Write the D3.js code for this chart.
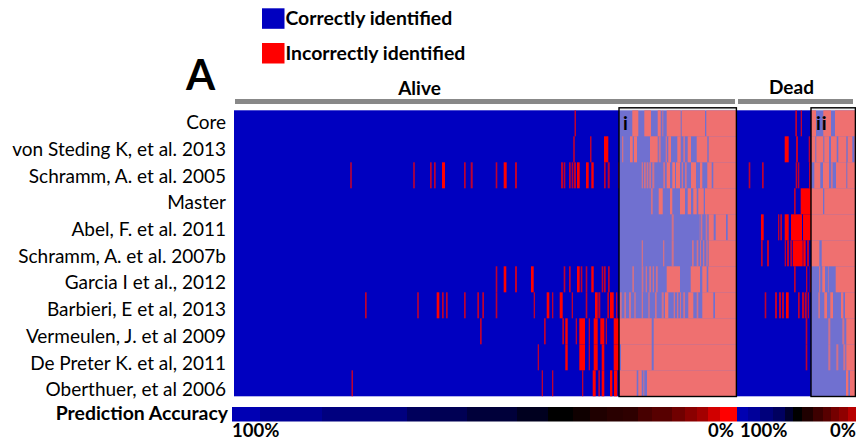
<!DOCTYPE html>
<html>
<head>
  <meta charset="utf-8">
  <title>Prediction accuracy per classifier</title>
  <style>
    body { margin: 0; background: #fff; }
    svg { display: block; }
    text { font-family: Lato, "Open Sans", sans-serif; fill: #000; font-size: 19px; }
    .bold { font-weight: 700; }
  </style>
</head>
<body>
  <script src="https://cdn.jsdelivr.net/npm/d3@7"></script>
  <script>
    var studies = ["Core", "von Steding K, et al. 2013", "Schramm, A. et al. 2005", "Master",
      "Abel, F. et al. 2011", "Schramm, A. et al. 2007b", "Garcia I et al., 2012",
      "Barbieri, E et al, 2013", "Vermeulen, J. et al 2009", "De Preter K. et al, 2011",
      "Oberthuer, et al 2006"];

    // sample ranges [from, to] that were misclassified, one list per study
    var aliveWrong = [
      [[340.5,342],[398.3,404.3],[410.3,417],[423.7,426.7],[428.3,429.3],[432.7,446.7],[447.7,471],[472.3,502]],
      [[339.2,340.8],[356,357.5],[370,374.3],[388,389.3],[396,398.7],[400,403],[416,423.7],[424.7,426.7],[431.7,433],[434.3,437],[443.3,446.7],[449.3,451],[453.7,457],[462.7,473.3],[474.7,502]],
      [[116.2,117.8],[179.2,180.8],[196,197.7],[200,201.7],[208,211],[230,231.7],[236.7,238.7],[261.7,263.3],[269.7,272.7],[281,283],[327,329],[329.7,331.3],[335,336.7],[337.7,339.3],[340,342],[343,345.7],[352,354.7],[357.3,359.7],[370,371.7],[373.7,375.7],[384,384.7],[407.7,409],[410,411.7],[412.7,414.3],[415.3,417],[418.3,420.3],[429.3,431],[432.7,436],[438.3,441],[442,446],[447.7,449],[451,452.7],[457,462],[466,468.3],[473.3,477.7],[479.3,502]],
      [[417,418.7],[424.7,428.7],[436,438.3],[446,451],[453.7,457],[459.3,462.7],[464.3,469.7],[471,502]],
      [[437.7,439.7],[465.7,466.3],[467,468.3],[471.7,473.3],[474.7,479.7],[481.7,492],[493.7,502]],
      [[407.7,409],[429,430.3],[437.7,439.7],[458,459.7],[462.7,464.3],[466,467],[469,470.3],[472.3,473.7],[474.7,502]],
      [[261.7,263.3],[269.7,272.3],[281,283],[297,299.7],[329.7,331.3],[335,336.7],[343,345.7],[346.7,348.3],[351.7,353.3],[357.3,359.7],[367.7,369.3],[370,371.7],[374,375.7],[398.3,400],[407.7,409.3],[411.7,413],[415.3,417],[418.7,420],[422,423.7],[432.7,446],[456.7,466],[468.3,472.7],[474.3,502]],
      [[131,132.7],[183.2,184.8],[202.7,205.3],[208,209.7],[212,213.7],[230,231.7],[243.3,245],[248.3,250],[261.7,263.3],[299.7,301],[312.7,315.3],[318,319.3],[325.7,328.7],[337.7,339],[351.7,353.3],[361,363.7],[364.3,366.3],[373.3,375],[376,379.7],[382,383.3],[386,387.7],[390.3,392],[395,397],[400.3,401.7],[407.7,409],[414.3,415.7],[421,422.7],[427.7,429.7],[431,434.3],[439.7,441],[443,444.3],[446,447],[449.3,451],[454.3,459.3],[462.7,464.3],[468.3,479.3],[481,502]],
      [[246,247.7],[310,311.7],[328.3,330],[331.3,333.7],[341.7,343],[345.3,351],[354.7,356],[359.7,363.7],[366.3,370.3],[371.7,373],[379.7,417.7],[419.7,502]],
      [[303.7,305],[331.3,333.7],[345.3,351],[354.7,356],[359.7,363.7],[367.7,370.3],[379.7,385.7],[387,417.7],[419.7,502]],
      [[117.5,119],[307.7,309],[318,319.3],[348,349.3],[358.7,361.7],[364.3,366],[367.7,370.3],[376,378.3],[380,383.3],[386,402.7],[404.3,407.7],[409.3,410.3],[413,502]]
    ];
    var deadWrong = [
      [[58.3,60],[63.7,65],[74,79],[86.3,94],[98,119]],
      [[47.7,51.7],[59,61],[71.7,73.3],[74,78.3],[79.3,86.3],[87.3,92],[94,99.7],[101.3,109.3],[110.7,115.3],[117.3,119]],
      [[11.7,13.3],[25,26.7],[58.7,60.3],[61,62.3],[72,74],[77.3,83.3],[86,92],[94,95.7],[99,109.3],[110.3,119]],
      [[57,58.7],[63.7,86],[87.3,119]],
      [[24,26.7],[41,42.3],[43.3,45],[47.7,51.7],[54,65],[66,119]],
      [[24,25.7],[30,32],[47.7,49],[50,52],[53.3,55.3],[56,65.7],[66.3,68.7],[70,72],[74,82.3],[84.7,119]],
      [[57,58.7],[69,70.3],[72.7,74],[82,83.3],[85.3,88],[91.3,92],[98.7,119]],
      [[27.7,29.3],[38,40],[42,44],[45,47],[49,51.7],[61,62.7],[65,67],[67.7,69.7],[70.7,72],[81.3,83],[87.3,90],[93.3,96],[104,106.3],[108,119]],
      [[68.7,70.3],[91.3,93.3],[105.3,107.3],[109.3,119]],
      [[68.7,70.3],[91.3,93.3],[99.3,101.3],[106.3,108.3],[109.3,119]],
      [[109,111.3],[113,119]]
    ];

    // accuracy key, stepped: [from sample, accuracy %]
    var aliveKeyStart = [-2,26,88,173,196,233,283,314,339,356,373,389,404,418,438,451,463,474,486];
    var aliveKeyAcc = [97,89,83,74,72,65,58,50,47,44,42,41,36,33,28,23,18,9,0];
    var deadKeyStart = [0,11,23,36,48,56,65,76,86,94,102,111];
    var deadKeyAcc = [96,90,82,75,62,50,44,38,33,27,22,14];

    var width = 856, height = 441;

    var xAlive = d3.scaleLinear().domain([0, 502]).range([234, 736]);
    var xDead = d3.scaleLinear().domain([0, 119]).range([737, 856]);
    var y = d3.scaleBand().domain(studies).range([110.3, 396.3]);
    // the labels sit on a slightly wider pitch than the rows
    var yLabel = d3.scalePoint().domain(studies).range([129.2, 396.2]);

    var blue = "#0000c0", red = "#ff0000";
    var keyColor = d3.scaleLinear().domain([0, 50, 100]).range([red, "#000000", blue]);

    var svg = d3.select("body").append("svg")
      .attr("width", width)
      .attr("height", height);

    // heat map
    function drawPanel(x, wrong, id) {
      var g = svg.append("g").attr("id", id);
      g.append("rect")
        .attr("x", x.range()[0])
        .attr("y", y.range()[0])
        .attr("width", x.range()[1] - x.range()[0])
        .attr("height", y.range()[1] - y.range()[0])
        .attr("fill", blue);
      var rows = g.selectAll(".row")
        .data(studies)
        .enter().append("g")
        .attr("class", "row")
        .attr("transform", function(d) { return "translate(0," + y(d) + ")"; });
      rows.selectAll("rect")
        .data(function(d, i) { return wrong[i]; })
        .enter().append("rect")
        .attr("x", function(d) { return x(d[0]); })
        .attr("width", function(d) { return x(d[1]) - x(d[0]); })
        .attr("height", y.bandwidth())
        .attr("fill", red)
        .attr("fill-opacity", function(d) { return d[1] - d[0] < 2.1 ? 0.75 : 1; }); // thin stripes look dim
    }
    drawPanel(xAlive, aliveWrong, "alive");
    drawPanel(xDead, deadWrong, "dead");

    // highlighted boxes i and ii
    function drawBox(x0, x1, label, lx) {
      svg.append("rect")
        .attr("x", x0)
        .attr("y", 107.8)
        .attr("width", x1 - x0)
        .attr("height", 288.7)
        .attr("fill", "#e0e0e0")
        .attr("fill-opacity", 0.5)
        .attr("stroke", "#000")
        .attr("stroke-width", 1.4);
      svg.append("text")
        .attr("class", "bold")
        .attr("x", lx)
        .attr("y", 130)
        .style("letter-spacing", "1px")
        .text(label);
    }
    drawBox(xAlive(385), xAlive(502.4), "i", 623);
    drawBox(xDead(74), xDead(118.4), "ii", 816);

    // row labels
    svg.selectAll(".study")
      .data(studies)
      .enter().append("text")
      .attr("class", "study")
      .attr("x", 226)
      .attr("y", function(d) { return yLabel(d); })
      .style("text-anchor", "end")
      .text(function(d) { return d; });

    // group bars on top
    svg.append("rect").attr("x", 235).attr("y", 99).attr("width", 500).attr("height", 5).attr("fill", "#888");
    svg.append("rect").attr("x", 738).attr("y", 99).attr("width", 115).attr("height", 5).attr("fill", "#888");
    svg.append("text").attr("class", "bold").attr("x", 419.5).attr("y", 94.5)
      .style("text-anchor", "middle").text("Alive");
    svg.append("text").attr("class", "bold").attr("x", 791.5).attr("y", 93.5)
      .style("text-anchor", "middle").text("Dead");

    // panel letter
    svg.append("text").attr("class", "bold").attr("x", 186).attr("y", 90)
      .style("font-size", "42px").text("A");

    // legend
    var legend = [["Correctly identified", blue, 8.3, 24.5], ["Incorrectly identified", red, 43, 59.5]];
    legend.forEach(function(d) {
      svg.append("rect").attr("x", 262).attr("y", d[2]).attr("width", 22.5).attr("height", 20.5).attr("fill", d[1]);
      svg.append("text").attr("class", "bold").attr("x", 285.5).attr("y", d[3])
        .style("font-size", "19.4px").text(d[0]);
    });

    // accuracy key
    function drawKey(x, starts, accs, end) {
      svg.append("g").selectAll("rect")
        .data(accs)
        .enter().append("rect")
        .attr("x", function(d, i) { return x(starts[i]); })
        .attr("y", 407)
        .attr("width", function(d, i) { return x(i + 1 < starts.length ? starts[i + 1] : end) - x(starts[i]); })
        .attr("height", 14.5)
        .attr("fill", function(d) { return keyColor(d); });
    }
    drawKey(xAlive, aliveKeyStart, aliveKeyAcc, 503);
    drawKey(xDead, deadKeyStart, deadKeyAcc, 119);

    svg.append("text").attr("class", "bold").attr("x", 228).attr("y", 419.5)
      .style("text-anchor", "end").style("font-size", "19.4px").text("Prediction Accuracy");

    var keyLabels = [["100%", 232, "start"], ["0%", 734, "end"], ["100%", 740, "start"], ["0%", 856, "end"]];
    svg.selectAll(".keylabel")
      .data(keyLabels)
      .enter().append("text")
      .attr("class", "keylabel bold")
      .attr("x", function(d) { return d[1]; })
      .attr("y", 436.5)
      .style("text-anchor", function(d) { return d[2]; })
      .style("font-size", "18.5px")
      .text(function(d) { return d[0]; });
  </script>
</body>
</html>
